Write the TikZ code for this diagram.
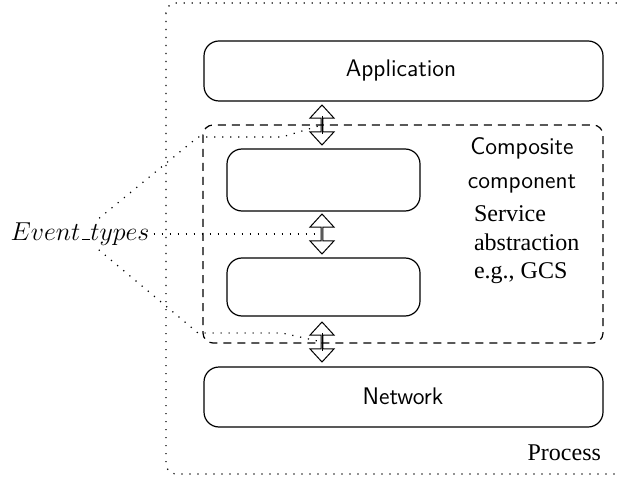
\documentclass[tikz,border=0pt]{standalone}
\usepackage{fontspec}
\newfontfamily\timesfont{Liberation Serif}
\usetikzlibrary{shapes.arrows}
\newcommand{\shortbar}{\leavevmode\kern.06em\vbox{\hrule width.3em height 0.4pt}}
\begin{document}
\begin{tikzpicture}[x=0.5pt,y=-0.5pt,
  box/.style={draw, rounded corners=7.5pt, line width=0.6pt},
  dotline/.style={line width=0.6pt, dash pattern=on 0.6pt off 3.4pt},
  dashline/.style={line width=0.6pt, dash pattern=on 4pt off 3pt},
  darrow/.style={double arrow, draw, line width=0.5pt, rotate=90, inner sep=0pt,
    minimum width=12pt, double arrow head extend=3pt, double arrow tip angle=85,
    minimum height=20pt},
  sanslbl/.style={font=\sffamily\fontsize{12}{14}\selectfont},
  seriflbl/.style={font=\timesfont\fontsize{12}{14.3}\selectfont}]
\useasboundingbox (0,0) rectangle (619,480);
\clip (0,0) rectangle (619,480);
% Process (dotted, extends beyond picture)
\draw[dotline, rounded corners=5pt] (166,3) rectangle (660,474);
\node[seriflbl, anchor=east] (proc) at (608,453) {Process};
% Application and Network
\draw[box] (204,41) rectangle (603,101);
\node[sanslbl] (app) at (401,71) {Application};
\draw[box] (204,367) rectangle (603,427);
\node[sanslbl] (net) at (403,396) {Network};
% Composite component
\draw[dashline, rounded corners=5pt] (203,125) rectangle (603,343);
\node[sanslbl, align=center] (comp) at (522,165) {Composite\\[3pt]component};
\node[seriflbl, align=left, anchor=west] (svc) at (467,245) {Service\\abstraction\\e.g., GCS};
% inner boxes
\draw[box] (227,149) rectangle (420,211);
\draw[box] (227,258) rectangle (420,316);
% double arrows
\node[darrow] (a1) at (322,125) {};
\node[darrow] (a2) at (322,234) {};
\node[darrow] (a3) at (322,342) {};
\draw[line width=0.4pt] ([yshift=4.5pt]a1.center) -- ([yshift=-4.5pt]a1.center);
\draw[line width=0.4pt] ([yshift=4.5pt]a3.center) -- ([yshift=-4.5pt]a3.center);
% Event types
\node[font=\fontsize{13}{15}\selectfont, inner sep=2pt] (ev) at (80,234) {\scalebox{1.08}{$Event\mbox{\shortbar}types$}};
\coordinate (u1) at (198,137);
\coordinate (u2) at (282,137);
\coordinate (l1) at (198,333);
\coordinate (l2) at (282,333);
\draw[dotline] (ev) -- (u1) -- (u2) -- (a1);
\draw[dotline] (ev) -- (a2);
\draw[dotline] (ev) -- (l1) -- (l2) -- (a3);
\end{tikzpicture}
\end{document}
